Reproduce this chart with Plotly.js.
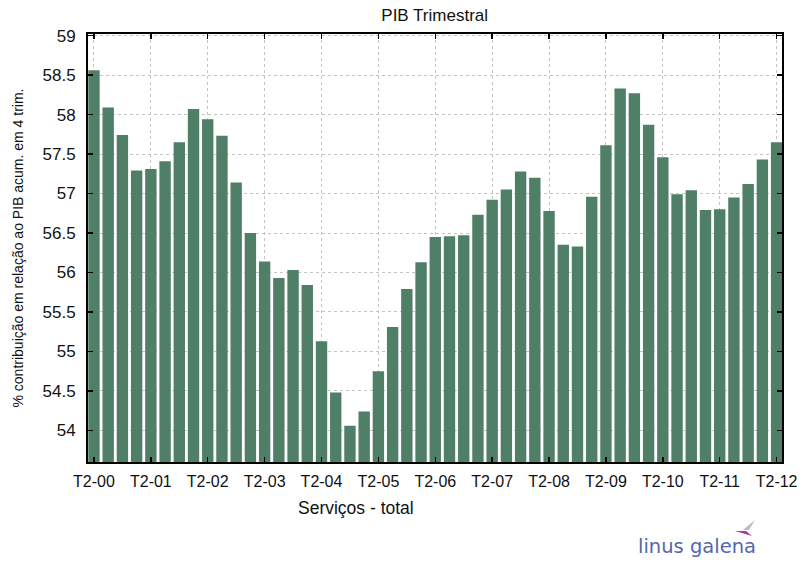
<!DOCTYPE html>
<html>
<head>
<meta charset="utf-8">
<script src="https://cdn.plot.ly/plotly-3.0.1.min.js"></script>
<style>html,body{margin:0;padding:0;background:#fff;}#chart{width:802px;height:564px;}</style>
</head>
<body>
<div id="chart"></div>
<script>
// Quarter categories T2-00 ... T2-12
var quarters = [
  "T2-00","T3-00","T4-00","T1-01","T2-01","T3-01","T4-01","T1-02",
  "T2-02","T3-02","T4-02","T1-03","T2-03","T3-03","T4-03","T1-04",
  "T2-04","T3-04","T4-04","T1-05","T2-05","T3-05","T4-05","T1-06",
  "T2-06","T3-06","T4-06","T1-07","T2-07","T3-07","T4-07","T1-08",
  "T2-08","T3-08","T4-08","T1-09","T2-09","T3-09","T4-09","T1-10",
  "T2-10","T3-10","T4-10","T1-11","T2-11","T3-11","T4-11","T1-12",
  "T2-12"
];
// % contribution of services to GDP (4-quarter accumulated)
var servicos = [
  58.56, 58.09, 57.74, 57.29, 57.31, 57.41, 57.65, 58.07,
  57.94, 57.73, 57.14, 56.50, 56.14, 55.93, 56.03, 55.84,
  55.13, 54.48, 54.06, 54.24, 54.75, 55.31, 55.79, 56.13,
  56.45, 56.46, 56.47, 56.73, 56.92, 57.05, 57.28, 57.20,
  56.78, 56.35, 56.33, 56.96, 57.61, 58.33, 58.27, 57.87,
  57.46, 56.99, 57.04, 56.79, 56.80, 56.95, 57.12, 57.43,
  57.65
];
var tickLabels = ["T2-00","T2-01","T2-02","T2-03","T2-04","T2-05","T2-06","T2-07","T2-08","T2-09","T2-10","T2-11","T2-12"];
var yTicks = [54, 54.5, 55, 55.5, 56, 56.5, 57, 57.5, 58, 58.5, 59];

var trace = {
  type: 'bar',
  x: quarters,
  y: servicos,
  marker: {color: 'rgb(80,127,104)', line: {width: 0}},
  hoverinfo: 'x+y'
};

var font = "Liberation Sans, Arial, sans-serif";

var layout = {
  width: 802, height: 564,
  margin: {l: 88, r: 20, t: 34, b: 102, pad: 0},
  paper_bgcolor: '#fff', plot_bgcolor: '#fff',
  bargap: 0.2,
  showlegend: false,
  title: {text: 'PIB Trimestral', font: {family: font, size: 17, color: '#111'}, x: 0.542, xanchor: 'center', y: 0.974, yanchor: 'middle'},
  xaxis: {
    type: 'category',
    categoryorder: 'array', categoryarray: quarters,
    range: [-0.42, 48.38],
    tickmode: 'array', tickvals: tickLabels, ticktext: tickLabels,
    tickfont: {family: font, size: 16, color: '#111'},
    ticklabelstandoff: 4,
    ticks: 'inside', ticklen: 5, tickcolor: '#000', tickwidth: 1.5,
    showline: true, linecolor: '#000', linewidth: 2, mirror: 'ticks',
    showgrid: true, gridcolor: '#c4c4c4', griddash: 'dot', gridwidth: 1,
    zeroline: false, fixedrange: true
  },
  yaxis: {
    range: [53.6, 59.02],
    tickmode: 'array', tickvals: yTicks, ticktext: yTicks.map(String),
    tickfont: {family: font, size: 17, color: '#111'},
    ticklabelstandoff: 7,
    ticks: 'inside', ticklen: 5, tickcolor: '#000', tickwidth: 1.5,
    showline: true, linecolor: '#000', linewidth: 2, mirror: 'ticks',
    showgrid: true, gridcolor: '#c4c4c4', griddash: 'dot', gridwidth: 1,
    zeroline: false, fixedrange: true,
    title: {text: '% contribuição em relação ao PIB acum. em 4 trim.', font: {family: font, size: 14, color: '#111'}, standoff: 16}
  },
  annotations: [
    {text: 'Serviços - total', xref: 'paper', yref: 'paper', x: (356 - 88) / 694, y: -(508 - 462) / 428, xanchor: 'center', yanchor: 'middle', showarrow: false, font: {family: font, size: 17.5, color: '#111'}},
    {text: 'linus galena', xref: 'paper', yref: 'paper', x: (636 - 88) / 694, y: -(546 - 462) / 428, xanchor: 'left', yanchor: 'middle', showarrow: false, font: {family: "DejaVu Sans, sans-serif", size: 19.5, color: '#5566ad'}}
  ],
  shapes: [
    {type: 'path', xref: 'paper', yref: 'paper',
     path: 'M ' + ((735 - 88) / 694) + ' ' + (-(531 - 462) / 428) + ' L ' + ((752 - 88) / 694) + ' ' + (-(536 - 462) / 428) + ' L ' + ((746 - 88) / 694) + ' ' + (-(531 - 462) / 428) + ' Z',
     fillcolor: '#b03a86', line: {width: 0}},
    {type: 'path', xref: 'paper', yref: 'paper',
     path: 'M ' + ((743 - 88) / 694) + ' ' + (-(530 - 462) / 428) + ' L ' + ((755 - 88) / 694) + ' ' + (-(520 - 462) / 428) + ' L ' + ((749 - 88) / 694) + ' ' + (-(530 - 462) / 428) + ' Z',
     fillcolor: '#bbbbbb', line: {width: 0}}
  ]
};

Plotly.newPlot('chart', [trace], layout, {displayModeBar: false, staticPlot: true});
</script>
</body>
</html>
